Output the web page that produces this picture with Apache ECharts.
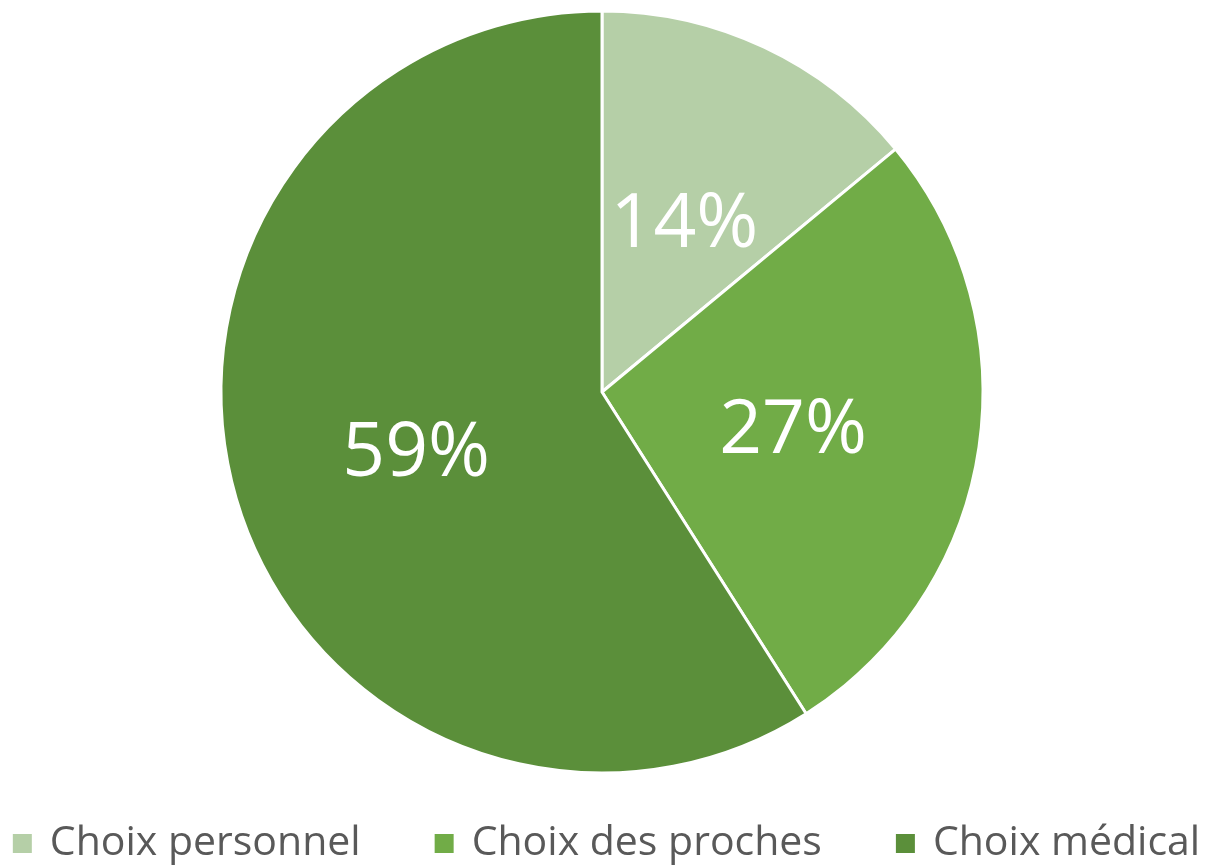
<!DOCTYPE html>
<html>
<head>
<meta charset="utf-8">
<script src="https://cdn.jsdelivr.net/npm/echarts@6/dist/echarts.min.js"></script>
<style>
  html, body { margin: 0; padding: 0; background: #ffffff; }
  #chart { width: 1211px; height: 865px; }
</style>
</head>
<body>
<div id="chart"></div>
<script>
// Répartition des choix (en %)
const categories = ['Choix personnel', 'Choix des proches', 'Choix médical'];
const values = [14, 27, 59];
const colors = ['#B5CFA7', '#71AC47', '#5B8F3A'];

const chart = echarts.init(document.getElementById('chart'));

chart.setOption({
  animation: false,
  color: colors,
  legend: {
    data: categories,
    top: 823,
    left: 'center',
    padding: 0,
    icon: 'rect',
    itemWidth: 21,
    itemHeight: 21,
    itemGap: 72,
    textStyle: {
      fontFamily: 'Open Sans',
      fontSize: 41,
      color: '#595959',
      padding: [0, 0, 0, 12]
    }
  },
  series: [{
    type: 'pie',
    center: [602, 392],
    radius: [0, 381],
    startAngle: 90,
    clockwise: true,
    data: categories.map((name, i) => ({ name, value: values[i] })),
    itemStyle: { borderColor: '#ffffff', borderWidth: 3 },
    label: {
      show: true,
      position: 'inside',
      // an empty spacer line above the value nudges the text slightly lower
      formatter: '{s| }\n{v|{c}%}',
      color: '#ffffff',
      rich: {
        s: { fontSize: 1, lineHeight: 18 },
        v: { fontFamily: 'Open Sans', fontSize: 75, color: '#ffffff' }
      }
    },
    labelLine: { show: false },
    emphasis: { disabled: true }
  }]
});
</script>
</body>
</html>
